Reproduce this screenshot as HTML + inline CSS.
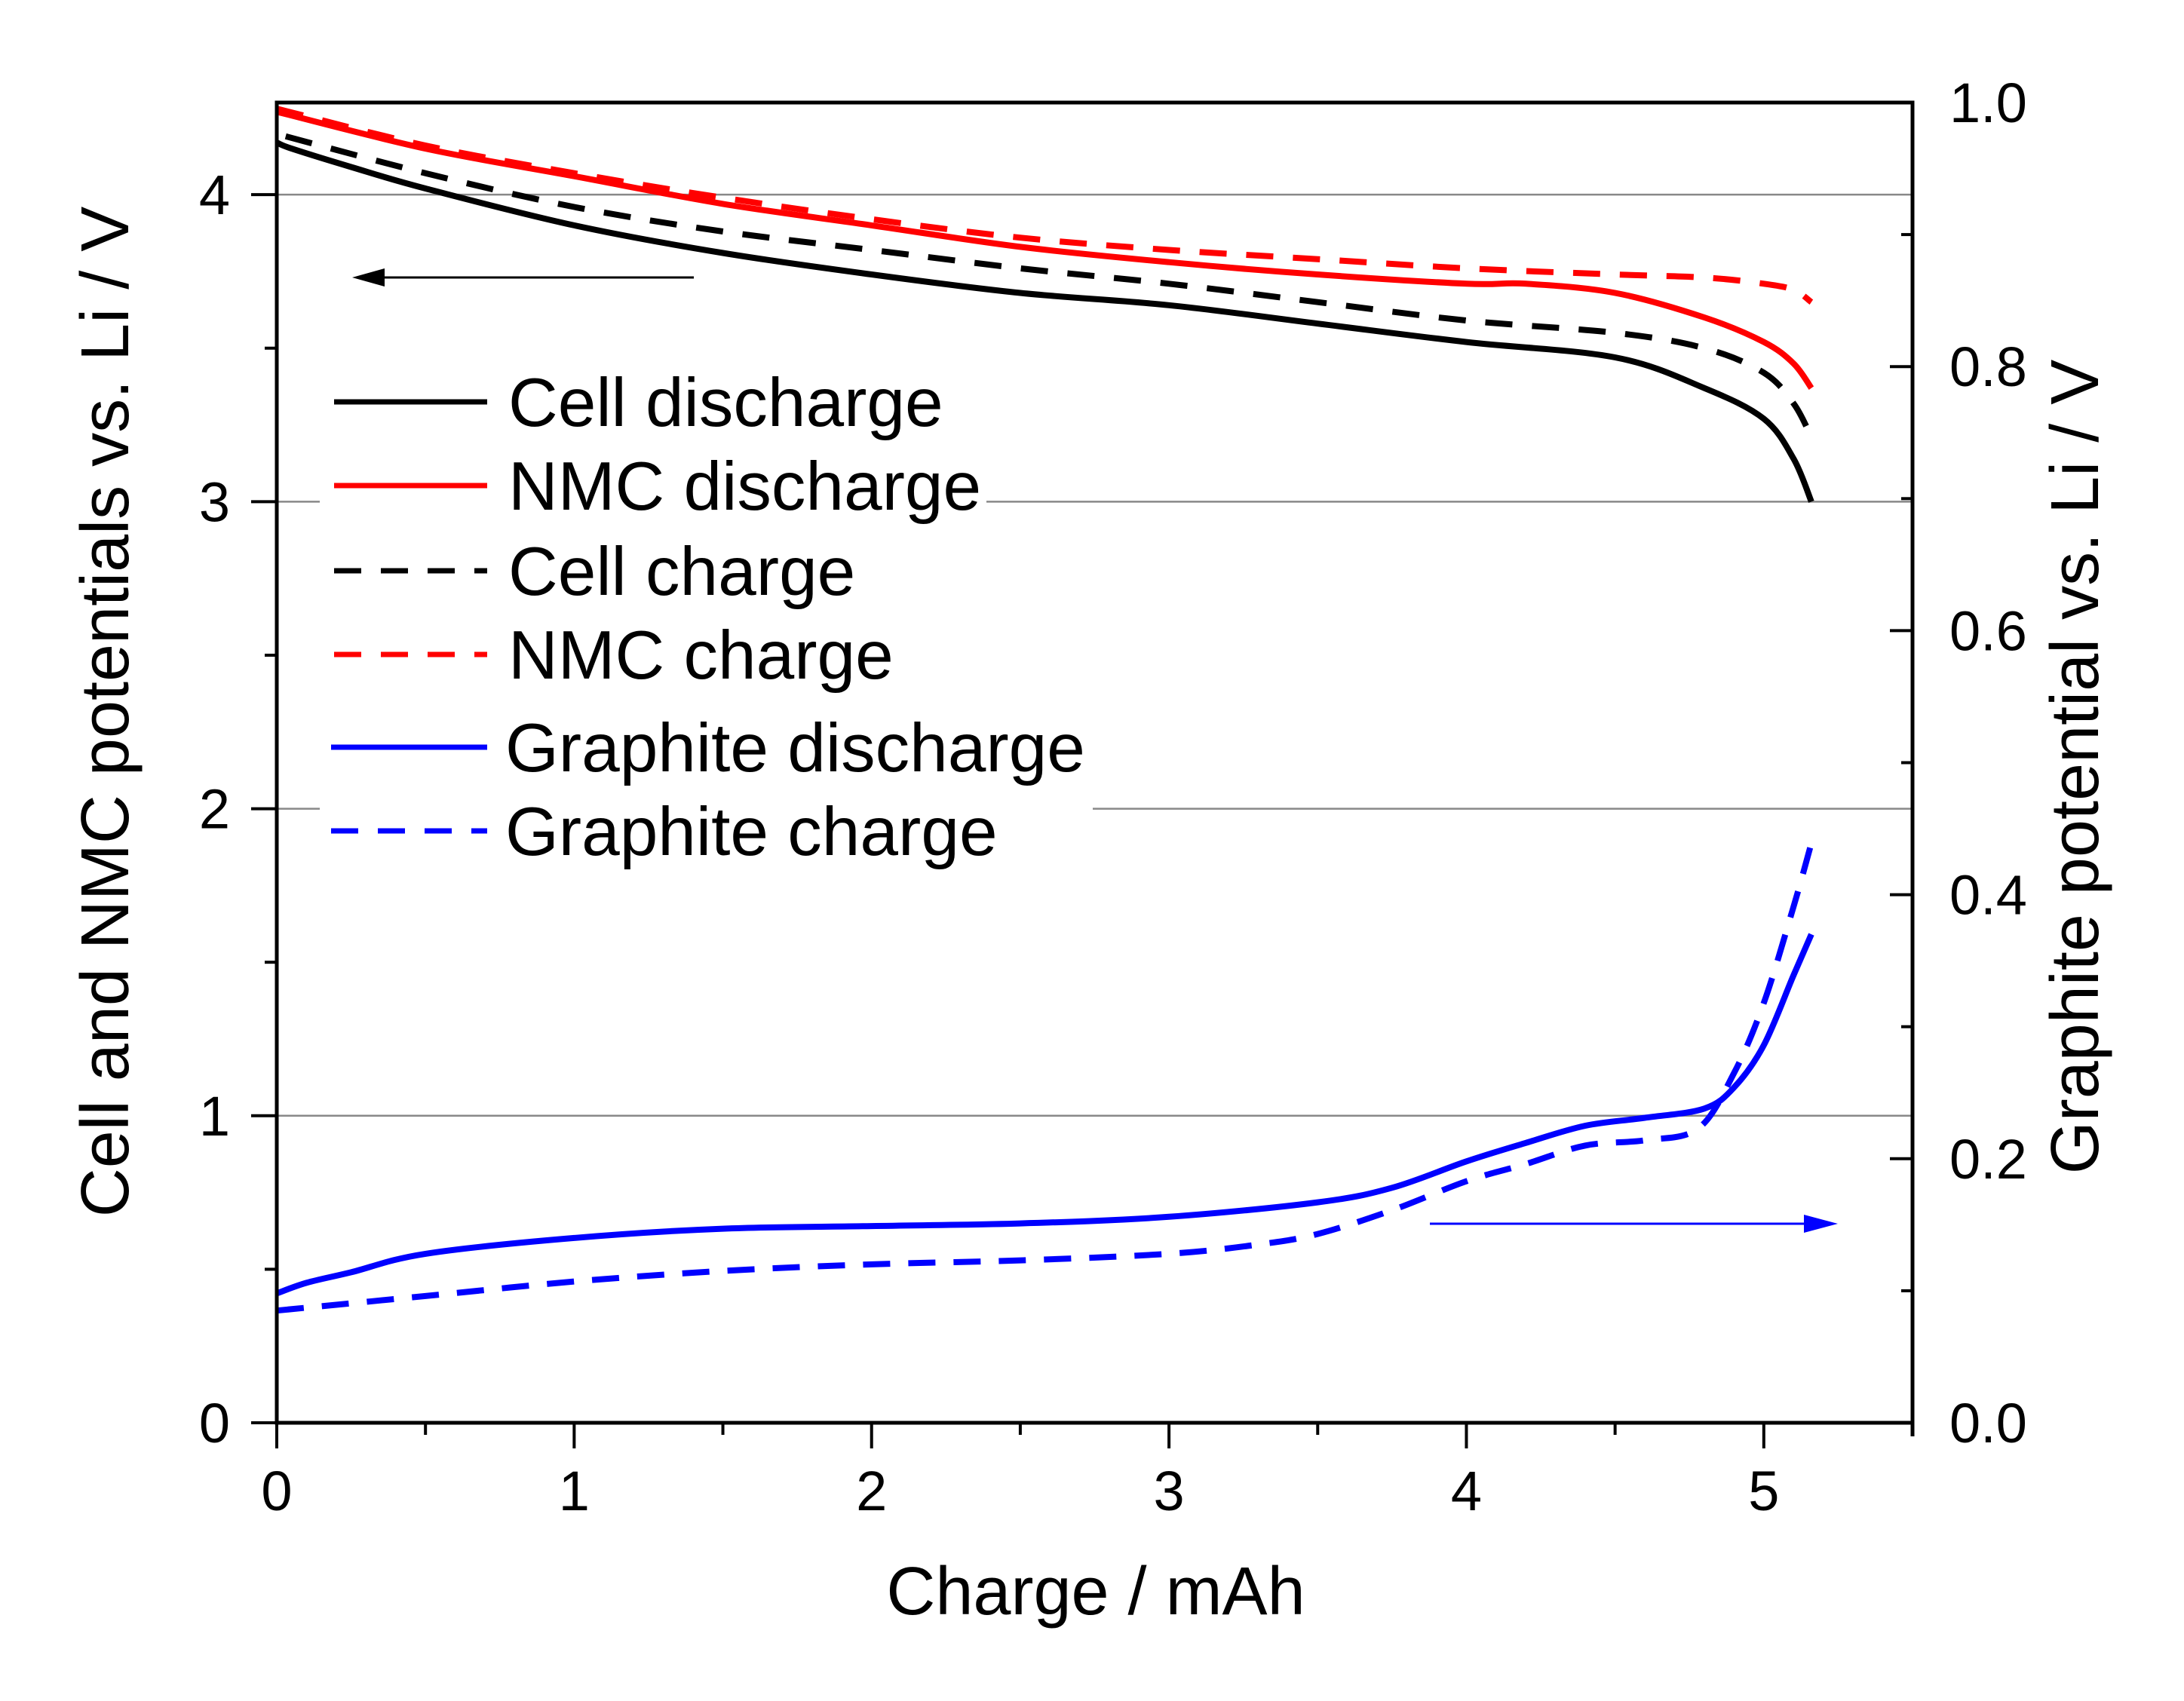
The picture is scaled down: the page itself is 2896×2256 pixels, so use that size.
<!DOCTYPE html>
<html><head><meta charset="utf-8"><style>
html,body{margin:0;padding:0;background:#fff;}
svg{display:block;font-family:"Liberation Sans",Arial,sans-serif;}
</style></head><body>
<svg id="chart" width="2896" height="2256" viewBox="0 0 2896 2256" xmlns="http://www.w3.org/2000/svg">
<rect width="2896" height="2256" fill="#fff"/>
<g id="grid"></g>
<g id="series"></g>
<g id="legend"></g>
<g id="axes"></g>
</svg>
<script>
const xTicks = [0,1,2,3,4,5];
const yLeftTicks = [0,1,2,3,4];
const yRightTicks = ["0.0","0.2","0.4","0.6","0.8","1.0"];
const cellDisX = [0,0.05,0.25,0.5,1,1.5,2,2.5,3,3.5,4,4.5,4.8,5.0,5.1,5.16];
const cellDisY = [4.17,4.15,4.09,4.02,3.90,3.81,3.74,3.68,3.64,3.58,3.52,3.47,3.37,3.27,3.14,3.0];
const cellChX = [0.03,0.5,1,1.5,2,2.5,3,3.5,4,4.5,4.8,5.0,5.1,5.16];
const cellChY = [4.19,4.07,3.96,3.88,3.82,3.76,3.71,3.65,3.59,3.55,3.50,3.42,3.32,3.21];
const nmcDisX = [0,0.5,1,1.5,2,2.5,3,3.5,4,4.2,4.5,4.8,5.0,5.1,5.16];
const nmcDisY = [4.27,4.15,4.06,3.97,3.90,3.83,3.78,3.74,3.71,3.71,3.68,3.60,3.52,3.45,3.37];
const nmcChX = [0,0.5,1,1.5,2,2.5,3,3.5,4,4.5,4.8,5.0,5.1,5.16];
const nmcChY = [4.28,4.16,4.07,3.99,3.92,3.86,3.82,3.79,3.76,3.74,3.73,3.71,3.69,3.65];
const grDisX = [0,0.1,0.25,0.5,1,1.5,2,2.5,3,3.5,3.75,4,4.2,4.4,4.6,4.8,4.9,5.0,5.1,5.16];
const grDisY = [0.098,0.106,0.114,0.128,0.140,0.147,0.149,0.151,0.156,0.167,0.178,0.198,0.212,0.225,0.231,0.238,0.254,0.286,0.339,0.370];
const grChX = [0,0.5,1,1.5,2,2.5,3,3.3,3.5,3.75,4,4.2,4.4,4.6,4.78,4.9,5.0,5.1,5.16];
const grChY = [0.085,0.096,0.107,0.115,0.120,0.123,0.128,0.135,0.143,0.161,0.183,0.196,0.210,0.214,0.223,0.265,0.318,0.391,0.439];

const L=367,R=2536,T=136,B=1887;
const X=v=>L+(v/5.5)*(R-L);
const YL=v=>B-(v/4.3)*(B-T);
const YR=v=>B-v*(B-T);
const NS="http://www.w3.org/2000/svg";
function mk(tag,attrs,parent){const e=document.createElementNS(NS,tag);for(const k in attrs)e.setAttribute(k,attrs[k]);parent.appendChild(e);return e;}
const grid=document.getElementById('grid'),series=document.getElementById('series'),legend=document.getElementById('legend'),axes=document.getElementById('axes');

yLeftTicks.forEach(v=>{if(v===0)return;const g=mk('line',{x1:L,x2:R,y1:YL(v),y2:YL(v),stroke:'#888','stroke-width':2.5},grid);

});

function path(xs,ys,yf,color,dash,name){
  const P=xs.map((x,i)=>[X(x),yf(ys[i])]);
  let d='M'+P[0][0].toFixed(1)+','+P[0][1].toFixed(1);
  for(let i=0;i<P.length-1;i++){
    const p0=P[Math.max(0,i-1)],p1=P[i],p2=P[i+1],p3=P[Math.min(P.length-1,i+2)];
    const c1=[p1[0]+(p2[0]-p0[0])/6,p1[1]+(p2[1]-p0[1])/6];
    const c2=[p2[0]-(p3[0]-p1[0])/6,p2[1]-(p3[1]-p1[1])/6];
    d+='C'+c1[0].toFixed(1)+','+c1[1].toFixed(1)+' '+c2[0].toFixed(1)+','+c2[1].toFixed(1)+' '+p2[0].toFixed(1)+','+p2[1].toFixed(1);
  }
  const p=mk('path',{d:d,fill:'none',stroke:color,'stroke-width':8,'stroke-linejoin':'round'},series);
  if(dash)p.setAttribute('stroke-dasharray',dash);
  
  
}
path(grChX,grChY,YR,'#0000ff','36,24','graphite-charge-line');
path(grDisX,grDisY,YR,'#0000ff',null,'graphite-discharge-line');
path(cellChX,cellChY,YL,'#000','36,26','cell-charge-line');
path(nmcChX,nmcChY,YL,'#ff0000','36,26','nmc-charge-line');
path(cellDisX,cellDisY,YL,'#000',null,'cell-discharge-line');
path(nmcDisX,nmcDisY,YL,'#ff0000',null,'nmc-discharge-line');

const a1=mk('g',{},series);


mk('line',{x1:920,y1:368,x2:500,y2:368,stroke:'#000','stroke-width':3},a1);
mk('polygon',{points:'467,368 510,356 510,380',fill:'#000'},a1);
const a2=mk('g',{},series);


mk('line',{x1:1896,y1:1623,x2:2400,y2:1623,stroke:'#0000ff','stroke-width':3},a2);
mk('polygon',{points:'2437,1623 2392,1611 2392,1635',fill:'#0000ff'},a2);

mk('rect',{x:424,y:476,width:884,height:450,fill:'#fff'},legend);
mk('rect',{x:424,y:926,width:1025,height:226,fill:'#fff'},legend);
const items=[["Cell discharge",'#000',null,533,443],["NMC discharge",'#ff0000',null,644,443],["Cell charge",'#000','36,26',757,443],["NMC charge",'#ff0000','36,26',868,443],["Graphite discharge",'#0000ff',null,991,439],["Graphite charge",'#0000ff','36,26',1102,439]];
items.forEach(it=>{
  const g=mk('g',{},legend);
  
  
  const ln=mk('line',{x1:it[4],x2:646,y1:it[3],y2:it[3],stroke:it[1],'stroke-width':7},g);
  if(it[2])ln.setAttribute('stroke-dasharray',it[2]);
  const t=mk('text',{x:it[4]===443?674:670,y:it[3]+32,'font-size':91,fill:'#000'},g);
  t.textContent=it[0];
});

mk('rect',{x:L,y:T,width:R-L,height:B-T,fill:'none',stroke:'#000','stroke-width':5},axes);
mk('line',{x1:R,x2:R,y1:B,y2:B+18,stroke:'#000','stroke-width':5},axes);
for(let i=0;i<=10;i++){const v=i*0.5;const maj=i%2===0;mk('line',{x1:X(v),x2:X(v),y1:B,y2:B+(maj?34:16),stroke:'#000','stroke-width':4},axes);}
xTicks.forEach(v=>{const t=mk('text',{x:X(v),y:2003,'font-size':74,'text-anchor':'middle'},axes);


t.textContent=v;});
for(let i=0;i<=8;i++){const v=i*0.5;const maj=i%2===0;mk('line',{x1:L,x2:L-(maj?34:16),y1:YL(v),y2:YL(v),stroke:'#000','stroke-width':4},axes);}
yLeftTicks.forEach(v=>{const t=mk('text',{x:305,y:YL(v)+26,'font-size':74,'text-anchor':'end'},axes);


t.textContent=v;});
for(let i=0;i<=10;i++){const v=i*0.1;const maj=i%2===0;mk('line',{x1:R,x2:R-(maj?30:15),y1:YR(v),y2:YR(v),stroke:'#000','stroke-width':4},axes);}
yRightTicks.forEach(s=>{const t=mk('text',{x:2585,y:YR(parseFloat(s))+26,'font-size':74},axes);


t.textContent=s;});
</script>
<svg style="position:absolute;left:0;top:0" width="2896" height="2256">
<text x="1453" y="2141" font-size="90" text-anchor="middle" font-family="Liberation Sans, Arial, sans-serif">Charge / mAh</text>
<text transform="translate(170,944) rotate(-90)" font-size="90" text-anchor="middle" font-family="Liberation Sans, Arial, sans-serif">Cell and NMC potentials vs. Li / V</text>
<text transform="translate(2782,1017) rotate(-90)" font-size="90" text-anchor="middle" font-family="Liberation Sans, Arial, sans-serif">Graphite potential vs. Li / V</text>
</svg>
</body></html>
